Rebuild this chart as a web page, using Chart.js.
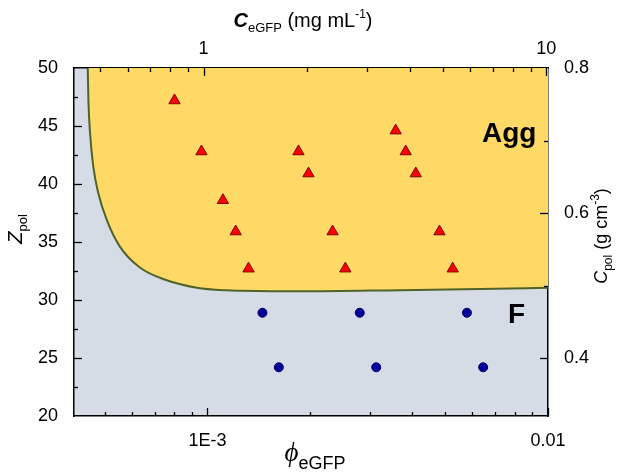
<!DOCTYPE html>
<html>
<head>
<meta charset="utf-8">
<script src="https://cdn.jsdelivr.net/npm/chart.js@4/dist/chart.umd.min.js"></script>
<style>
  html, body { margin: 0; padding: 0; background: #fff; }
  canvas { display: block; }
</style>
</head>
<body>
<canvas id="chart" width="618" height="473"></canvas>
<script>
// Agg points (red triangles): phi_eGFP and Z_pol
const aggPhi = [8.0e-4, 9.6e-4, 1.11e-3, 1.21e-3, 1.32e-3, 1.85e-3, 1.98e-3, 2.33e-3, 2.54e-3, 3.57e-3, 3.82e-3, 4.09e-3, 4.80e-3, 5.25e-3];
const aggZ = [47.2, 42.8, 38.6, 35.9, 32.7, 42.8, 40.9, 35.9, 32.7, 44.6, 42.8, 40.9, 35.9, 32.7];

// F points (blue circles)
const fluidPhi = [1.45e-3, 2.80e-3, 5.78e-3, 1.62e-3, 3.13e-3, 6.45e-3];
const fluidZ = [28.9, 28.9, 28.9, 24.2, 24.2, 24.2];

// phase boundary
const boundaryPhi = [4.45e-4, 4.47e-4, 4.52e-4, 4.62e-4, 4.78e-4, 5.06e-4, 5.53e-4, 6.33e-4, 7.59e-4, 9.30e-4, 1.14e-3, 1.25e-3, 1.87e-3, 3.67e-3, 6.31e-3, 1.0e-2];
const boundaryZ = [50, 47.2, 44.4, 41.5, 39.2, 36.9, 34.6, 32.8, 31.7, 31.06, 30.83, 30.8, 30.75, 30.85, 30.95, 31.05];

// axis ticks
const phiTicks = [1e-3, 1e-2];
const phiTickLabels = ["1E-3", "0.01"];
const phiMinor = [5e-4, 6e-4, 7e-4, 8e-4, 9e-4, 2e-3, 3e-3, 4e-3, 5e-3, 6e-3, 7e-3, 8e-3, 9e-3];
const concTicks = [1, 10];
const concTickLabels = ["1", "10"];
const concMinor = [0.5, 0.6, 0.7, 0.8, 0.9, 2, 3, 4, 5, 6, 7, 8, 9];
const zTicks = [20, 25, 30, 35, 40, 45, 50];
const zMinor = [22.5, 27.5, 32.5, 37.5, 42.5, 47.5];
const cpolTicks = [0.4, 0.6, 0.8];
const cpolMinor = [0.5, 0.7];

const tickFont = { family: "'Liberation Sans', Arial, sans-serif", size: 18 };
const borderOpts = { display: true, color: "#000", width: 1.5 };

// grey background of the plot area
const plotBg = {
  id: "plotBg",
  beforeDraw(chart) {
    const { ctx, chartArea: a } = chart;
    ctx.save();
    ctx.fillStyle = "#D6DCE5";
    ctx.fillRect(a.left, a.top, a.right - a.left, a.bottom - a.top);
    ctx.restore();
  }
};

// inward tick marks, long for major and short for minor
const tickMarks = {
  id: "tickMarks",
  afterDraw(chart) {
    const { ctx, chartArea: a, scales } = chart;
    ctx.save();
    ctx.strokeStyle = "#000";
    ctx.lineWidth = 1.3;
    const mark = (scale, values, len) => {
      values.forEach(v => {
        const p = Math.round(scale.getPixelForValue(v)) + 0.5;
        ctx.beginPath();
        if (scale.position === "bottom") { ctx.moveTo(p, a.bottom); ctx.lineTo(p, a.bottom - len); }
        if (scale.position === "top") { ctx.moveTo(p, a.top); ctx.lineTo(p, a.top + len); }
        if (scale.position === "left") { ctx.moveTo(a.left, p); ctx.lineTo(a.left + len, p); }
        if (scale.position === "right") { ctx.moveTo(a.right, p); ctx.lineTo(a.right - len, p); }
        ctx.stroke();
      });
    };
    mark(scales.x, phiTicks, 8);
    mark(scales.x, phiMinor, 4);
    mark(scales.x2, concTicks, 8);
    mark(scales.x2, concMinor, 4);
    mark(scales.y, zTicks.slice(1, -1), 8);
    mark(scales.y, zMinor, 4);
    mark(scales.y2, cpolTicks.slice(0, -1), 8);
    mark(scales.y2, cpolMinor, 4);
    ctx.restore();
  }
};

// draws a run of text pieces (for sub/superscripts), centred on (x, y)
function drawRuns(ctx, runs, x, y, angle, center) {
  ctx.save();
  ctx.translate(x, y);
  ctx.rotate(angle);
  ctx.textBaseline = "alphabetic";
  ctx.textAlign = "left";
  let w = 0;
  runs.forEach(r => { ctx.font = r.font; w += ctx.measureText(r.t).width; });
  let cx = center ? -w / 2 : 0;
  runs.forEach(r => {
    ctx.font = r.font;
    ctx.fillStyle = "#000";
    ctx.fillText(r.t, cx, r.dy || 0);
    cx += ctx.measureText(r.t).width;
  });
  ctx.restore();
}

const sans = "'Liberation Sans', Arial, sans-serif";
const titles = {
  id: "titles",
  afterDraw(chart) {
    const ctx = chart.ctx;
    // bottom
    drawRuns(ctx, [
      { t: "\u03D5", font: "italic 27px 'Liberation Serif', 'DejaVu Serif', serif" },
      { t: "eGFP", font: "18px " + sans, dy: 8 }
    ], 315, 461, 0, true);
    // top
    drawRuns(ctx, [
      { t: "C", font: "italic bold 20px " + sans },
      { t: "eGFP", font: "13px " + sans, dy: 5 },
      { t: " (mg mL", font: "20px " + sans },
      { t: "-1", font: "12px " + sans, dy: -9 },
      { t: ")", font: "20px " + sans }
    ], 303, 27, 0, true);
    // left
    drawRuns(ctx, [
      { t: "Z", font: "italic 20px " + sans },
      { t: "pol", font: "13px " + sans, dy: 5 }
    ], 22, 229, -Math.PI / 2, true);
    // right
    drawRuns(ctx, [
      { t: "C", font: "italic 18px " + sans },
      { t: "pol", font: "12px " + sans, dy: 5 },
      { t: " (g cm", font: "18px " + sans },
      { t: "-3", font: "12px " + sans, dy: -8 },
      { t: ")", font: "18px " + sans }
    ], 607, 236, -Math.PI / 2, true);
    // region labels
    drawRuns(ctx, [{ t: "Agg", font: "bold 28px " + sans }], 482, 141.5, 0, false);
    drawRuns(ctx, [{ t: "F", font: "bold 28px " + sans }], 508, 323, 0, false);
  }
};

const toXY = (xs, ys) => xs.map((v, i) => ({ x: v, y: ys[i] }));

new Chart(document.getElementById("chart"), {
  type: "scatter",
  data: {
    datasets: [
      {
        label: "Agg",
        data: toXY(aggPhi, aggZ),
        pointStyle: "triangle",
        pointRadius: 6.5,
        backgroundColor: "#FF0000",
        borderColor: "#800000",
        borderWidth: 1,
        order: 0
      },
      {
        label: "F",
        data: toXY(fluidPhi, fluidZ),
        pointStyle: "circle",
        pointRadius: 4.5,
        backgroundColor: "#000099",
        borderColor: "#000066",
        borderWidth: 1,
        order: 0
      },
      {
        type: "line",
        label: "boundary",
        data: toXY(boundaryPhi, boundaryZ),
        showLine: true,
        pointRadius: 0,
        borderColor: "#4F6228",
        borderWidth: 2,
        backgroundColor: "#FFD966",
        fill: "end",
        cubicInterpolationMode: "monotone",
        order: 2
      }
    ]
  },
  options: {
    responsive: false,
    animation: false,
    layout: { padding: 0 },
    plugins: { legend: { display: false }, tooltip: { enabled: false } },
    scales: {
      x: {
        type: "logarithmic", position: "bottom", min: 4.055e-4, max: 1e-2,
        grid: { display: false }, border: borderOpts,
        afterBuildTicks: s => { s.ticks = phiTicks.map(v => ({ value: v })); },
        ticks: { callback: (v, i) => phiTickLabels[i], font: tickFont, color: "#000", padding: 6, autoSkip: false, maxRotation: 0 },
        afterFit: s => { s.height = 57; }
      },
      x2: {
        type: "logarithmic", position: "top", min: 0.4188, max: 10.11,
        grid: { display: false }, border: borderOpts,
        afterBuildTicks: s => { s.ticks = concTicks.map(v => ({ value: v })); },
        ticks: { callback: (v, i) => concTickLabels[i], font: tickFont, color: "#000", padding: 0, autoSkip: false, maxRotation: 0 },
        afterFit: s => { s.height = 68; }
      },
      y: {
        type: "linear", position: "left", min: 20, max: 50,
        grid: { display: false }, border: borderOpts,
        afterBuildTicks: s => { s.ticks = zTicks.map(v => ({ value: v })); },
        ticks: { font: tickFont, color: "#000", padding: 8 },
        afterFit: s => { s.width = 74; }
      },
      y2: {
        type: "linear", position: "right", min: 0.32, max: 0.8,
        grid: { display: false }, border: borderOpts,
        afterBuildTicks: s => { s.ticks = cpolTicks.map(v => ({ value: v })); },
        ticks: { callback: v => v.toFixed(1), font: tickFont, color: "#000", padding: 8 },
        afterFit: s => { s.width = 70; }
      }
    }
  },
  plugins: [plotBg, tickMarks, titles]
});
</script>
</body>
</html>
